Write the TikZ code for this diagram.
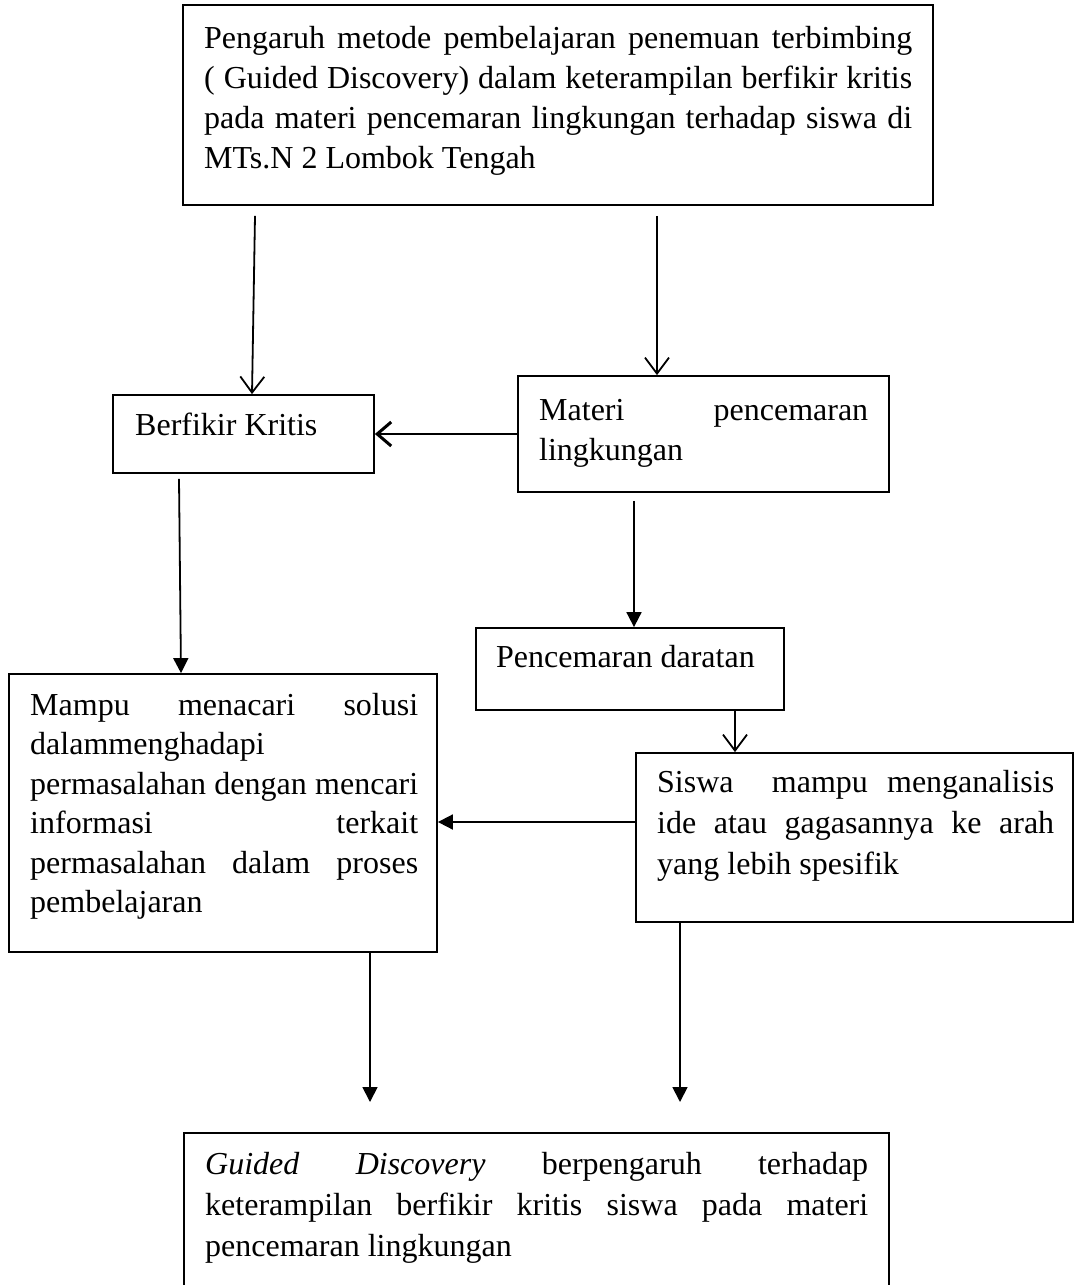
\documentclass[tikz,border=0pt]{standalone}
\usepackage{fontspec}
\setmainfont{Liberation Serif}
\usetikzlibrary{arrows.meta,calc}
\newcommand\jl[2]{\leavevmode\hbox to #1{\spaceskip=0pt\xspaceskip=0pt\rule{0pt}{24pt}#2}}
\newcommand\nl[1]{\leavevmode\hbox{\spaceskip=0pt\xspaceskip=0pt\rule{0pt}{24pt}#1}}
\begin{document}
\begin{tikzpicture}[x=1pt,y=-1pt,
  box/.style={draw, line width=1.8pt, rectangle, inner sep=0pt},
  txt/.style={inner sep=0pt, anchor=north west, align=left, font=\fontsize{32}{40}\selectfont},
  ln/.style={line width=1.8pt},
  oa/.style={ln, -{Straight Barb[length=16pt,width=24pt,line width=1.8pt]}},
  fa/.style={ln, -{Triangle[length=15pt,width=15pt]}}]
\clip (0,0) rectangle (1078,1285);
\fill[white] (0,0) rectangle (1078,1285);

% boxes
\node[box, minimum width=750pt, minimum height=200pt] (top) at (558,105) {};
\node[box, minimum width=261pt, minimum height=78pt] (berf) at (243.5,434) {};
\node[box, minimum width=371pt, minimum height=116pt] (mat) at (703.5,434) {};
\node[box, minimum width=308pt, minimum height=82pt] (pen) at (630,669) {};
\node[box, minimum width=428pt, minimum height=278pt] (mam) at (223,813) {};
\node[box, minimum width=437pt, minimum height=169pt] (sis) at (854.5,837.5) {};
\node[box, minimum width=705pt, minimum height=167pt] (bot) at (536.5,1216.5) {};

% texts
\node[txt, text width=708pt] (topt) at (204,24) {\jl{708pt}{Pengaruh metode pembelajaran penemuan terbimbing}\\\jl{708pt}{( Guided Discovery) dalam keterampilan berfikir kritis}\\\jl{708pt}{pada materi pencemaran lingkungan terhadap siswa di}\\\nl{MTs.N 2 Lombok Tengah}};
\node[txt] (berft) at (135,411) {\nl{Berfikir Kritis}};
\node[txt, text width=329pt] (matt) at (539,396) {\jl{329pt}{Materi pencemaran}\\\nl{lingkungan}};
\node[txt] (pent) at (496,643) {\nl{Pencemaran daratan}};
\node[txt, text width=388pt, font=\fontsize{32}{39.5}\selectfont] (mamt) at (30,691) {\jl{388pt}{Mampu menacari solusi}\\\nl{dalammenghadapi}\\\jl{388pt}{permasalahan dengan mencari}\\\jl{388pt}{informasi terkait}\\\jl{388pt}{permasalahan dalam proses}\\\nl{pembelajaran}};
\node[txt, text width=397pt, font=\fontsize{32}{41}\selectfont] (sist) at (657,768) {\jl{397pt}{Siswa\ \ mampu menganalisis}\\\jl{397pt}{ide atau gagasannya ke arah}\\\nl{yang lebih spesifik}};
\node[txt, text width=663pt, font=\fontsize{32}{41}\selectfont] (bott) at (205,1150) {\jl{663pt}{\textit{Guided} \textit{Discovery} berpengaruh terhadap}\\\jl{663pt}{keterampilan berfikir kritis siswa pada materi}\\\nl{pencemaran lingkungan}};

% connectors
\draw[oa] ([xshift=-303pt,yshift=-10pt]top.south) -- ([xshift=8.5pt]berf.north);
\draw[oa] ([xshift=99pt,yshift=-10pt]top.south) -- ([xshift=-46.5pt]mat.north);
\draw[ln, line width=2.8pt, -{Straight Barb[length=14pt,width=24pt,line width=3pt]}] (mat.west) -- (berf.east);
\draw[fa] ([xshift=-64.5pt,yshift=-5pt]berf.south) -- ([xshift=-42pt]mam.north);
\draw[fa] ([xshift=-69.5pt,yshift=-8pt]mat.south) -- ([xshift=4pt]pen.north);
\draw[oa] ([xshift=105pt]pen.south) -- ([xshift=-119.5pt]sis.north);
\coordinate (s1) at ([yshift=15.5pt]sis.west);
\draw[fa] (s1) -- (s1 -| mam.east);
\coordinate (e1) at (370,1102);
\coordinate (e2) at (680,1102);
\draw[fa] ([xshift=147pt]mam.south) -- (e1);
\draw[fa] ([xshift=-174.5pt]sis.south) -- (e2);
\end{tikzpicture}
\end{document}
